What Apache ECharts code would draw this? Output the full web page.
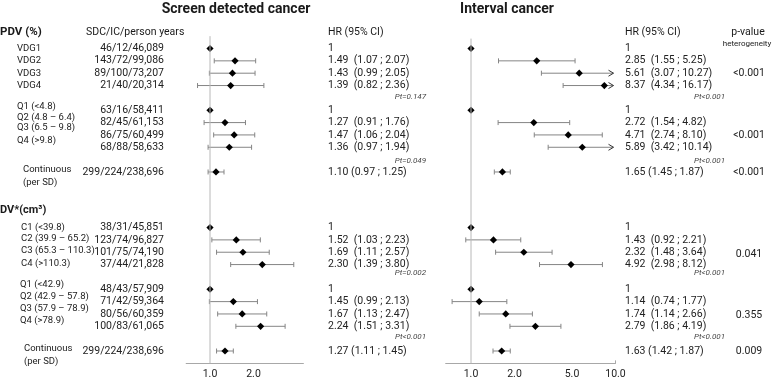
<!DOCTYPE html>
<html>
<head>
<meta charset="utf-8">
<script src="https://cdn.jsdelivr.net/npm/echarts@6/dist/echarts.min.js"></script>
<style>
  html, body { margin: 0; padding: 0; background: #fff; }
  #chart { width: 778px; height: 382px; }
</style>
</head>
<body>
<div id="chart"></div>
<script>
// ---- data ----
const rowLabels = ['VDG1', 'VDG2', 'VDG3', 'VDG4',
  'Q1 (<4.8)', 'Q2 (4.8 – 6.4)', 'Q3 (6.5 – 9.8)', 'Q4 (>9.8)', 'Continuous\n(per SD)',
  'C1 (<39.8)', 'C2 (39.9 – 65.2)', 'C3 (65.3 – 110.3)', 'C4 (>110.3)',
  'Q1 (<42.9)', 'Q2 (42.9 – 57.8)', 'Q3 (57.9 – 78.9)', 'Q4 (>78.9)', 'Continuous\n(per SD)']
const counts = ['46/12/46,089', '143/72/99,086', '89/100/73,207', '21/40/20,314',
  '63/16/58,411', '82/45/61,153', '86/75/60,499', '68/88/58,633', '299/224/238,696',
  '38/31/45,851', '123/74/96,827', '101/75/74,190', '37/44/21,828',
  '48/43/57,909', '71/42/59,364', '80/56/60,359', '100/83/61,065', '299/224/238,696']
const sdcHR = [1, 1.49, 1.43, 1.39, 1, 1.27, 1.47, 1.36, 1.10, 1, 1.52, 1.69, 2.30, 1, 1.45, 1.67, 2.24, 1.27]
const sdcLo = [null, 1.07, 0.99, 0.82, null, 0.91, 1.06, 0.97, 0.97, null, 1.03, 1.11, 1.39, null, 0.99, 1.13, 1.51, 1.11]
const sdcHi = [null, 2.07, 2.05, 2.36, null, 1.76, 2.04, 1.94, 1.25, null, 2.23, 2.57, 3.80, null, 2.13, 2.47, 3.31, 1.45]
const icHR = [1, 2.85, 5.61, 8.37, 1, 2.72, 4.71, 5.89, 1.65, 1, 1.43, 2.32, 4.92, 1, 1.14, 1.74, 2.79, 1.63]
const icLo = [null, 1.55, 3.07, 4.34, null, 1.54, 2.74, 3.42, 1.45, null, 0.92, 1.48, 2.98, null, 0.74, 1.14, 1.86, 1.42]
const icHi = [null, 5.25, 10.27, 16.17, null, 4.82, 8.10, 10.14, 1.87, null, 2.21, 3.64, 8.12, null, 1.77, 2.66, 4.19, 1.87]
const sdcTrend = ['Pt=0.147', 'Pt=0.049', 'Pt=0.002', 'Pt<0.001']
const icTrend = ['Pt<0.001', 'Pt<0.001', 'Pt<0.001', 'Pt<0.001']
const pHetero = ['<0.001', '<0.001', '<0.001', '0.041', '0.355', '0.009']
const sdcTicks = [1, 2]
const icTicks = [1, 2, 5, 10]

// ---- layout: row slots on the shared y scale ----
const ROW = [0, 1, 2, 3, 5, 6, 7, 8, 10, 14.5, 15.5, 16.5, 17.5, 19.5, 20.5, 21.5, 22.5, 24.5]
const LABEL_ROW = [0, 1, 2, 3, 4.71, 5.6, 6.44, 7.49, 10.32, 14.48, 15.43, 16.37, 17.39, 19.15, 20.1, 21.09, 22.06, 24.84]
const LABEL_X = [17, 17, 17, 17, 17, 17, 17, 17, 23, 21, 21, 21, 21, 20, 20, 20, 20, 24]
const TREND_ROW = [3.93, 9.08, 18.2, 23.38]
const P_ROW = [2, 7, 10, 16.7, 21.6, 24.5]
const SDC_RANGE = [0.684, 4.43]
const IC_RANGE = [0.668, 10]
const SDC_ORIGIN = 210
const IC_ORIGIN = 471
const PX_DECADE = 144.5
const TOP = 36.15
const HEIGHT = 327.2
const FONT = 'Roboto, sans-serif'
const FS = '10.5px '

const lg = Math.log10

function hrText (hr, lo, hi, cont) {
  if (lo == null) return '1'
  return hr.toFixed(2) + (cont ? ' (' : '  (') + lo.toFixed(2) + ' ; ' + hi.toFixed(2) + ')'
}

// text items for the full-width text grid
let texts = []
rowLabels.forEach((t, i) => {
  texts.push({x: LABEL_X[i], row: LABEL_ROW[i], text: t, align: 'left', label: true})
  texts.push({x: 164, row: ROW[i], text: counts[i], align: 'right'})
  let cont = t.indexOf('Continuous') === 0
  texts.push({x: 328, row: ROW[i], text: hrText(sdcHR[i], sdcLo[i], sdcHi[i], cont), align: 'left'})
  texts.push({x: 625, row: ROW[i], text: hrText(icHR[i], icLo[i], icHi[i], cont), align: 'left'})
})
sdcTrend.forEach((t, i) => {
  texts.push({x: 426, row: TREND_ROW[i], text: t, align: 'right', small: true})
})
icTrend.forEach((t, i) => {
  texts.push({x: 725, row: TREND_ROW[i], text: t, align: 'right', small: true})
})
pHetero.forEach((t, i) => {
  texts.push({x: 749, row: P_ROW[i], text: t, align: 'center'})
})

function forestRender (hrs, los, his, axMax) {
  return function (params, api) {
    let i = params.dataIndex
    let row = ROW[i]
    let c = api.coord([lg(hrs[i]), row])
    let y = c[1]
    let children = []
    if (los[i] != null) {
      let x1 = api.coord([lg(los[i]), row])[0]
      let clipped = lg(his[i]) > axMax
      let x2 = api.coord([Math.min(lg(his[i]), axMax), row])[0]
      if (clipped) x2 -= 2
      let ws = {stroke: '#858585', lineWidth: 1}
      children.push({type: 'line', shape: {x1: x1, y1: y, x2: x2, y2: y}, style: ws})
      children.push({type: 'line', shape: {x1: x1, y1: y - 2.5, x2: x1, y2: y + 2.5}, style: ws})
      if (clipped) {
        children.push({type: 'polyline', shape: {points: [[x2 - 5, y - 3], [x2, y], [x2 - 5, y + 3]]}, style: {stroke: '#333', lineWidth: 1, fill: null}})
      } else {
        children.push({type: 'line', shape: {x1: x2, y1: y - 2.5, x2: x2, y2: y + 2.5}, style: ws})
      }
    }
    let r = 3.6
    children.push({type: 'polygon', shape: {points: [[c[0], y - r], [c[0] + r, y], [c[0], y + r], [c[0] - r, y]]}, style: {fill: '#000'}})
    return {type: 'group', children: children}
  }
}

let myChart = echarts.init(document.getElementById('chart'))

function plotAxis (range, ticks, gridIndex, endTick) {
  return {
    type: 'value',
    gridIndex: gridIndex,
    min: lg(range[0]),
    max: lg(range[1]),
    splitLine: {show: false},
    axisLine: {show: true, onZero: false, lineStyle: {color: '#a8a8a8', width: 1}},
    axisTick: {show: endTick, inside: true, length: 3, lineStyle: {color: '#a8a8a8'}, customValues: [lg(10)]},
    axisLabel: {
      show: true,
      customValues: ticks.map(lg),
      formatter: v => Math.pow(10, v).toFixed(1),
      color: '#222',
      fontFamily: FONT,
      fontSize: 10.5,
      margin: 6
    }
  }
}

function rowAxis (gridIndex) {
  return {type: 'value', gridIndex: gridIndex, inverse: true, min: -1, max: 25.5, show: false}
}

function headText (x, y, text, font, align) {
  return {type: 'text', x: x, y: y, silent: true, style: {text: text, font: font, fill: '#1a1a1a', textAlign: align, textVerticalAlign: 'middle'}}
}

myChart.setOption({
  animation: false,
  grid: [
    {left: SDC_ORIGIN + lg(SDC_RANGE[0]) * PX_DECADE, top: TOP, width: (lg(SDC_RANGE[1]) - lg(SDC_RANGE[0])) * PX_DECADE, height: HEIGHT, outerBoundsMode: 'none'},
    {left: IC_ORIGIN + lg(IC_RANGE[0]) * PX_DECADE, top: TOP, width: (lg(IC_RANGE[1]) - lg(IC_RANGE[0])) * PX_DECADE, height: HEIGHT, outerBoundsMode: 'none'},
    {left: 0, top: TOP, width: 778, height: HEIGHT, outerBoundsMode: 'none'}
  ],
  xAxis: [
    plotAxis(SDC_RANGE, sdcTicks, 0, false),
    plotAxis(IC_RANGE, icTicks, 1, true),
    {type: 'value', gridIndex: 2, min: 0, max: 778, show: false}
  ],
  yAxis: [rowAxis(0), rowAxis(1), rowAxis(2)],
  graphic: [
    headText(236, 9, 'Screen detected cancer', 'bold 14px ' + FONT, 'center'),
    headText(507, 9, 'Interval cancer', 'bold 14px ' + FONT, 'center'),
    headText(0, 32, 'PDV (%)', 'bold 11.5px ' + FONT, 'left'),
    headText(0, 210, 'DV*(cm³)', 'bold 11px ' + FONT, 'left'),
    headText(86, 32, 'SDC/IC/person years', FS + FONT, 'left'),
    headText(328, 32, 'HR (95% CI)', FS + FONT, 'left'),
    headText(625, 32, 'HR (95% CI)', FS + FONT, 'left'),
    headText(748, 32, 'p-value', FS + FONT, 'center'),
    headText(747, 44, 'heterogeneity', '8px ' + FONT, 'center')
  ],
  series: [
    {
      type: 'line', xAxisIndex: 0, yAxisIndex: 0, symbol: 'none', silent: true,
      lineStyle: {color: '#b8b8b8', width: 1}, data: [[0, -1], [0, 25.5]]
    },
    {
      type: 'line', xAxisIndex: 1, yAxisIndex: 1, symbol: 'none', silent: true,
      lineStyle: {color: '#b8b8b8', width: 1}, data: [[0, -0.8], [0, 25.5]]
    },
    {
      type: 'custom', xAxisIndex: 0, yAxisIndex: 0,
      renderItem: forestRender(sdcHR, sdcLo, sdcHi, lg(SDC_RANGE[1])),
      data: sdcHR.map((v, i) => [lg(v), ROW[i]])
    },
    {
      type: 'custom', xAxisIndex: 1, yAxisIndex: 1,
      renderItem: forestRender(icHR, icLo, icHi, lg(IC_RANGE[1])),
      data: icHR.map((v, i) => [lg(v), ROW[i]])
    },
    {
      type: 'custom', xAxisIndex: 2, yAxisIndex: 2, silent: true,
      renderItem: function (params, api) {
        let t = texts[params.dataIndex]
        let p = api.coord([t.x, t.row])
        return {
          type: 'text',
          style: {
            x: p[0], y: p[1], text: t.text,
            font: (t.small ? 'italic 8px ' : (t.label ? '9.5px ' : FS)) + FONT,
            fill: t.small ? '#444' : '#222',
            lineHeight: 12.5,
            textAlign: t.align,
            textVerticalAlign: 'middle'
          }
        }
      },
      data: texts.map(t => [t.x, t.row])
    }
  ]
})
</script>
</body>
</html>
